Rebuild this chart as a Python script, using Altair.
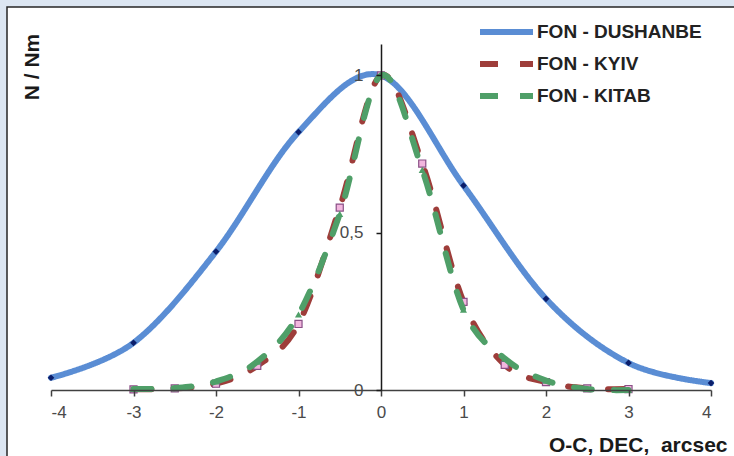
import altair as alt
import pandas as pd

# Series names, in legend / drawing order
series_names = ["FON - DUSHANBE", "FON - KYIV", "FON - KITAB"]

# Dushanbe: one point per arcsec
x_dushanbe = [-4, -3, -2, -1, 0, 1, 2, 3, 4]
y_dushanbe = [0.039, 0.15, 0.44, 0.82, 1.0, 0.65, 0.29, 0.086, 0.022]

# Kyiv and Kitab: one point per half arcsec
x_half_step = [-3, -2.5, -2, -1.5, -1, -0.5, 0, 0.5, 1, 1.5, 2, 2.5, 3]
y_kyiv = [0.002, 0.005, 0.02, 0.077, 0.21, 0.58, 1.0, 0.72, 0.28, 0.08, 0.025, 0.005, 0.003]
y_kitab = [0.003, 0.006, 0.027, 0.09, 0.24, 0.56, 1.0, 0.70, 0.255, 0.10, 0.03, 0.003, 0.0]

x_ticks = [-4, -3, -2, -1, 0, 1, 2, 3, 4]
y_ticks = [0, 0.5, 1]

rows = []
for xv, yv in zip(x_dushanbe, y_dushanbe):
    rows.append({"series": series_names[0], "x": xv, "y": yv})
for xv, yv in zip(x_half_step, y_kyiv):
    rows.append({"series": series_names[1], "x": xv, "y": yv})
for xv, yv in zip(x_half_step, y_kitab):
    rows.append({"series": series_names[2], "x": xv, "y": yv})
df = pd.DataFrame(rows)

FONT = "Liberation Sans, Arial, sans-serif"
BLUE = "#5a8dd4"
RED = "#9e3d3a"
GREEN = "#4f9f68"

x_axis = alt.Axis(
    values=x_ticks, grid=False, zindex=1,
    title="O-C, DEC,\u00a0 arcsec",
    domainColor="#404040", domainWidth=1.5,
    tickColor="#404040", tickWidth=1.5, tickSize=6,
    labelFont=FONT, labelFontSize=17, labelColor="#4a4a4a", labelPadding=8,
    labelExpr="toString(datum.value)",
    titleFont=FONT, titleFontSize=21, titleFontWeight="bold", titleColor="#1a1a1a",
    titleX=676, titleY=61, titleAlign="right", titleBaseline="alphabetic", titleAnchor="end",
)
y_axis = alt.Axis(
    values=y_ticks, grid=False, zindex=1, offset=-330,
    title="N / Nm",
    domainColor="#1a1a1a", domainWidth=1.5,
    tickColor="#1a1a1a", tickWidth=1.5, tickSize=5,
    labelFont=FONT, labelFontSize=17, labelColor="#4a4a4a", labelPadding=13,
    labelExpr="replace(toString(datum.value), '.', ',')",
    titleFont=FONT, titleFontSize=21, titleFontWeight="bold", titleColor="#1a1a1a",
    titleX=-349, titleY=22.5, titleAngle=-90, titleAlign="center", titleBaseline="middle",
)

legend = alt.Legend(
    title=None, orient="none", legendX=426, legendY=-28, padding=0,
    symbolType="stroke", symbolSize=2809, symbolStrokeWidth=6,
    clipHeight=32, rowPadding=0,
    labelFont=FONT, labelFontSize=19, labelFontWeight="bold", labelColor="#222222",
    labelOffset=1, labelLimit=400,
)

x_enc = alt.X("x:Q", scale=alt.Scale(domain=[-4, 4], nice=False, zero=False), axis=x_axis)
y_enc = alt.Y("y:Q", scale=alt.Scale(domain=[0, 1.1], nice=False), axis=y_axis)
color_enc = alt.Color("series:N", scale=alt.Scale(domain=series_names, range=[BLUE, RED, GREEN]), legend=legend)
dash_enc = alt.StrokeDash("series:N", scale=alt.Scale(domain=series_names, range=[[1, 0], [18, 22], [18, 22]]), legend=legend)

base = alt.Chart(df)


def line_layer(name):
    return base.transform_filter(alt.datum.series == name).mark_line(
        strokeWidth=6, strokeCap="round", interpolate="cardinal"
    ).encode(x=x_enc, y=y_enc, color=color_enc, strokeDash=dash_enc)


pts_dushanbe = base.transform_filter(alt.datum.series == series_names[0]).mark_point(
    shape="diamond", filled=True, size=45, color="#0b1e6b", opacity=1
).encode(x=x_enc, y=y_enc)
pts_kyiv = base.transform_filter(alt.datum.series == series_names[1]).mark_point(
    shape="square", filled=True, size=50, fill="#f2b6de", stroke="#8a4f86", strokeWidth=1.2, opacity=1
).encode(x=x_enc, y=y_enc)
pts_kitab = base.transform_filter(alt.datum.series == series_names[2]).mark_point(
    shape="triangle-up", filled=True, size=50, color=GREEN, opacity=1
).encode(x=x_enc, y=y_enc)

# White panel with a dark border behind the plot
frame = alt.Chart(pd.DataFrame({"k": [0]})).mark_rect(
    fill="white", stroke="#262626", strokeWidth=1.5
).encode(x=alt.value(-44), x2=alt.value(720), y=alt.value(-37), y2=alt.value(440))

chart = alt.layer(
    frame,
    line_layer(series_names[0]), pts_dushanbe,
    line_layer(series_names[1]), pts_kyiv,
    line_layer(series_names[2]), pts_kitab,
).properties(
    width=660, height=346,
    background="#dce6f2",
    padding={"left": 51, "top": 44, "right": 23, "bottom": 66},
    autosize=alt.AutoSizeParams(type="none"),
).configure_view(strokeWidth=0)

chart.save("out.html", embed_options={"renderer": "svg", "actions": False})
